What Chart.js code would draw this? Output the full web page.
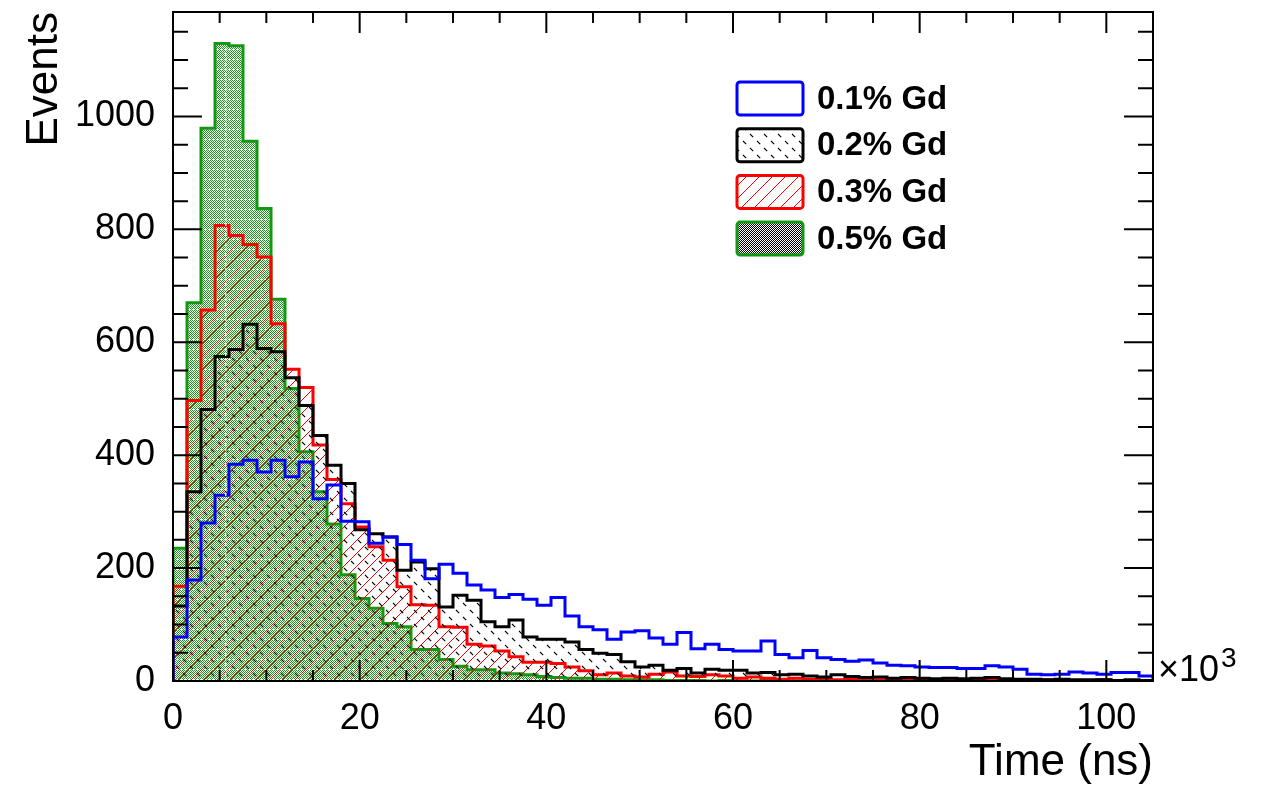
<!DOCTYPE html>
<html>
<head>
<meta charset="utf-8">
<script src="https://cdn.jsdelivr.net/npm/chart.js@4.4.0/dist/chart.umd.min.js"></script>
<style>
html,body{margin:0;padding:0;background:#fff;}
</style>
</head>
<body>
<canvas id="myChart" width="1261" height="791"></canvas>
<script>
var labels=["0.1% Gd","0.2% Gd","0.3% Gd","0.5% Gd"]
var binWidth=1.5

var gd01=[78,179,280,329,384,391,370,391,362,388,
    323,347,283,282,244,255,242,214,181,207,
    191,170,161,148,153,145,134,148,115,96,
    91,74,87,89,76,65,86,57,65,56,
    53,53,71,47,41,54,41,38,35,37,
    32,28,27,25,24,24,22,22,27,25,
    21,12,11,12,16,14,12,15,15,9]
var gd02=[133,335,481,575,587,632,589,583,537,488,
    435,382,350,268,261,255,196,211,199,131,
    152,143,105,96,108,78,74,74,69,56,
    49,47,34,25,28,19,22,14,21,19,
    19,14,15,11,12,9,7,11,8,6,
    7,5,6,5,4,5,4,5,6,4,
    3,3,2,3,2,2,2,1,2,1]
var gd03=[168,497,657,807,789,773,751,633,552,520,
    418,357,314,273,238,214,167,135,134,96,
    95,65,62,53,43,33,33,31,25,18,
    11,14,9,7,12,16,9,8,11,9,
    5,7,5,3,5,3,3,2,3,2,
    2,3,2,1,2,2,1,2,4,2,
    1,1,2,1,1,1,2,1,1,0]
var gd05=[235,670,979,1129,1125,956,837,676,518,406,
    335,278,188,146,129,102,96,56,56,38,
    26,20,20,14,13,11,8,6,5,5,
    3,3,2,2,2,1,1,1,0,1,
    0,0,1,0,0,0,0,0,0,0,
    0,0,0,0,0,0,0,0,0,0,
    0,0,0,0,0,0,0,0,0,0]

var xTicks=[0,20,40,60,80,100]
var yTicks=[0,200,400,600,800,1000]

// histogram -> points at the bin low edges, drawn stepped
function steps(vals){
    var pts=[{x:0,y:0}]
    vals.forEach(function(v,i){ pts.push({x:i*binWidth,y:v}) })
    var end=vals.length*binWidth
    pts.push({x:end,y:vals[vals.length-1]})
    pts.push({x:end,y:0})
    return pts
}

function tile(w,h,draw){
    var c=document.createElement('canvas')
    c.width=w; c.height=h
    var g=c.getContext('2d')
    draw(g,w,h)
    return g.createPattern(c,'repeat')
}

var hatchRed=tile(13,13,function(g,w,h){
    g.strokeStyle='#ff0000'; g.lineWidth=1
    g.beginPath()
    g.moveTo(-1,h+1); g.lineTo(w+1,-1)
    g.moveTo(-1,1); g.lineTo(1,-1)
    g.moveTo(w-1,h+1); g.lineTo(w+1,h-1)
    g.stroke()
})
var dashBlack=tile(14,14,function(g,w,h){
    g.strokeStyle='#000'; g.lineWidth=1.1
    g.beginPath()
    ;[1,8].forEach(function(t){ g.moveTo(t,t); g.lineTo(t+3.2,t+3.2) })
    g.stroke()
})
// fine green/white checker with a white dotted row every few pixels
var dotsGreen=tile(4,10,function(g,w,h){
    g.fillStyle='#ffffff'; g.fillRect(0,0,w,h)
    g.fillStyle='#1a9c1a'
    for(var yy=0;yy<9;yy++) for(var xx=0;xx<w;xx++){
        if((xx+yy)%2==0) g.fillRect(xx,yy,1,1)
    }
    g.fillRect(3,9,1,1)
})
var checkBlack=tile(2,2,function(g){
    g.fillStyle='#000'; g.fillRect(0,0,2,2)
    g.fillStyle='#fff'; g.fillRect(0,0,1,1); g.fillRect(1,1,1,1)
})

var font='"Liberation Sans", Arial, Helvetica, sans-serif'

var frame={
    id:'frame',
    afterDatasetsDraw:function(chart){
        var c=chart.ctx, a=chart.chartArea, sx=chart.scales.x, sy=chart.scales.y
        c.save()
        // white seam through the green fill
        c.strokeStyle='rgba(255,255,255,0.9)'
        c.lineWidth=1.5
        c.setLineDash([3,2])
        c.beginPath()
        c.moveTo(sx.getPixelForValue(5.65),sy.getPixelForValue(0))
        c.lineTo(sx.getPixelForValue(5.65),sy.getPixelForValue(gd05[3])+3)
        c.stroke()
        c.setLineDash([])
        c.strokeStyle='#000'
        c.lineWidth=2
        c.beginPath()
        for(var v=0;v<=sx.max;v+=5){
            var px=sx.getPixelForValue(v), len=(v%20==0)?21:11
            c.moveTo(px,a.bottom); c.lineTo(px,a.bottom-len)
            c.moveTo(px,a.top); c.lineTo(px,a.top+len)
        }
        for(var v=0;v<=sy.max;v+=50){
            var py=sy.getPixelForValue(v), len=(v%200==0)?29:15
            c.moveTo(a.left,py); c.lineTo(a.left+len,py)
            c.moveTo(a.right,py); c.lineTo(a.right-len,py)
        }
        c.stroke()
        c.strokeRect(a.left,a.top,a.right-a.left,a.bottom-a.top)
        c.restore()
    },
    afterDraw:function(chart){
        var c=chart.ctx, a=chart.chartArea
        c.save()
        // x10^3
        c.fillStyle='#000'
        c.textBaseline='alphabetic'
        c.font='36px '+font
        c.fillText('\u00d710',a.right+5,a.bottom)
        var w=c.measureText('\u00d710').width
        c.font='28px '+font
        c.fillText('3',a.right+7+w,a.bottom-14)
        // legend
        var fills=[null,dashBlack,hatchRed,checkBlack]
        chart.data.datasets.forEach(function(ds,i){
            var bx=737, by=82+i*46.7, bw=66, bh=33
            c.beginPath()
            c.roundRect(bx,by,bw,bh,3)
            c.fillStyle=fills[i]||'#fff'
            c.fill()
            c.lineWidth=3
            c.strokeStyle=ds.borderColor
            c.stroke()
            c.fillStyle='#000'
            c.font='bold 33px '+font
            c.textBaseline='middle'
            c.fillText(ds.label,817,by+bh/2+1)
        })
        c.restore()
    }
}

var myChart=document.getElementById('myChart').getContext('2d')
var chart=new Chart(myChart,{
    type:'line',
    data:{
        datasets:[
            {label:labels[0],data:steps(gd01),borderColor:'#0000ff',fill:false},
            {label:labels[1],data:steps(gd02),borderColor:'#000000',backgroundColor:dashBlack,fill:'origin'},
            {label:labels[2],data:steps(gd03),borderColor:'#ff0000',backgroundColor:hatchRed,fill:'origin'},
            {label:labels[3],data:steps(gd05),borderColor:'#129912',backgroundColor:dotsGreen,fill:'origin'}
        ]
    },
    options:{
        responsive:false,
        animation:false,
        datasets:{line:{stepped:'before',borderWidth:3,pointRadius:0,tension:0}},
        layout:{padding:{top:12,right:108,left:0,bottom:0}},
        scales:{
            x:{
                type:'linear',min:0,max:105,
                grid:{display:false},border:{display:false},
                afterBuildTicks:function(s){ s.ticks=xTicks.map(function(v){return {value:v}}) },
                afterFit:function(s){ s.height=110; s.paddingLeft=0; s.paddingRight=0 },
                ticks:{font:{family:font,size:36},color:'#000',padding:8,maxRotation:0,autoSkip:false,
                    callback:function(v){ return String(v) }},
                title:{display:true,text:'Time (ns)',align:'end',color:'#000',font:{family:font,size:44},padding:{top:0,bottom:2}}
            },
            y:{
                type:'linear',min:0,max:1185,
                grid:{display:false},border:{display:false},
                afterBuildTicks:function(s){ s.ticks=yTicks.map(function(v){return {value:v}}) },
                afterFit:function(s){ s.width=173; s.paddingTop=0; s.paddingBottom=0 },
                ticks:{font:{family:font,size:36},color:'#000',padding:10,
                    callback:function(v){ return String(v) }},
                title:{display:true,text:'Events',align:'end',color:'#000',font:{family:font,size:44},padding:{top:18,bottom:0}}
            }
        },
        plugins:{legend:{display:false},tooltip:{enabled:false}}
    },
    plugins:[frame]
})
</script>
</body>
</html>
